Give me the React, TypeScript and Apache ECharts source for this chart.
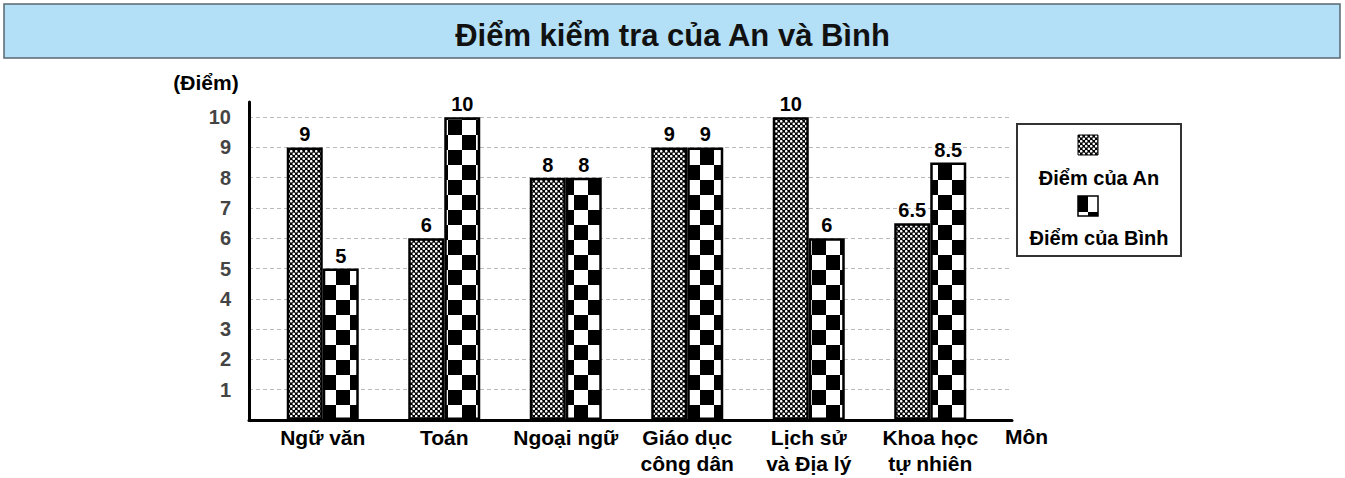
import React, { useEffect, useRef } from "react";
import * as echarts from "echarts";

const titleText = "Điểm kiểm tra của An và Bình";
const subjects = [
  "Ngữ văn",
  "Toán",
  "Ngoại ngữ",
  "Giáo dục\ncông dân",
  "Lịch sử\nvà Địa lý",
  "Khoa học\ntự nhiên",
];
const seriesNames = ["Điểm của An", "Điểm của Bình"];
const anScores = [9, 6, 8, 9, 10, 6.5];
const binhScores = [5, 10, 8, 9, 6, 8.5];
const yTickLabels = [1, 2, 3, 4, 5, 6, 7, 8, 9, 10];
const yAxisName = "(Điểm)";
const xAxisName = "Môn";
const Y_MIN = 0;
const Y_MAX = 10.5;
const Y_STEP = 1;

const FONT = '"Liberation Sans", Arial, Helvetica, sans-serif';

const svgUrl = (s: string) =>
  "data:image/svg+xml;charset=utf-8," + encodeURIComponent(s);

const meshSvg =
  '<svg xmlns="http://www.w3.org/2000/svg" width="5" height="5">' +
  '<rect width="5" height="5" fill="#000"/>' +
  '<circle cx="1.25" cy="1.25" r="1.3" fill="#fff"/>' +
  '<circle cx="3.75" cy="3.75" r="1.3" fill="#fff"/>' +
  "</svg>";

const checkerSvg =
  '<svg xmlns="http://www.w3.org/2000/svg" width="28" height="30">' +
  '<rect width="28" height="30" fill="#fff"/>' +
  '<rect x="0" y="0" width="14" height="15" fill="#000"/>' +
  '<rect x="14" y="15" width="14" height="15" fill="#000"/>' +
  "</svg>";

const meshPattern = () => ({
  image: svgUrl(meshSvg),
  repeat: "repeat",
  imageWidth: 5,
  imageHeight: 5,
});
const checkerPattern = () => ({
  image: svgUrl(checkerSvg),
  repeat: "repeat",
  imageWidth: 28,
  imageHeight: 30,
  x: 5,
  y: 0,
});

export default function App() {
  const ref = useRef<HTMLDivElement>(null);

  useEffect(() => {
    if (!ref.current) return;
    const chart = echarts.init(ref.current, undefined, { renderer: "svg" });

    const barLabel = {
      show: true,
      position: "top",
      distance: 3,
      fontSize: 20,
      fontWeight: "bold",
      color: "#000",
      fontFamily: FONT,
    };

    const option: any = {
      animation: false,
      backgroundColor: "#fff",
      title: {
        text: titleText,
        left: "center",
        top: 20,
        padding: 0,
        textStyle: {
          fontSize: 31,
          fontWeight: "bold",
          color: "#111",
          fontFamily: FONT,
        },
      },
      grid: [
        { left: 249, right: 333, top: 102, bottom: 58 },
        { left: 262, right: 354, top: 102, bottom: 58 },
      ],
      xAxis: [
        {
          gridIndex: 0,
          type: "value",
          min: 0,
          max: 1,
          axisLine: { show: true, lineStyle: { color: "#000", width: 3 } },
          axisTick: { show: false },
          axisLabel: { show: false },
          splitLine: { show: false },
        },
        {
          gridIndex: 1,
          type: "category",
          data: subjects,
          axisLine: { show: false },
          axisTick: { show: false },
          splitLine: { show: false },
          axisLabel: {
            interval: 0,
            margin: 4,
            fontSize: 21,
            fontWeight: "bold",
            color: "#000",
            lineHeight: 26,
            fontFamily: FONT,
          },
        },
      ],
      yAxis: [
        {
          gridIndex: 0,
          type: "value",
          min: Y_MIN,
          max: Y_MAX,
          interval: Y_STEP,
          axisLine: { show: true, lineStyle: { color: "#000", width: 3 } },
          axisTick: { show: false },
          axisLabel: {
            margin: 18,
            fontSize: 20,
            fontWeight: "bold",
            color: "#444",
            fontFamily: FONT,
            formatter: (v: number) =>
              yTickLabels.includes(v) ? String(v) : "",
          },
          splitLine: {
            show: true,
            showMinLine: false,
            showMaxLine: false,
            lineStyle: { color: "#bbb", type: [4, 3], width: 1 },
          },
        },
        {
          gridIndex: 1,
          type: "value",
          min: Y_MIN,
          max: Y_MAX,
          interval: Y_STEP,
          show: false,
          splitLine: { show: false },
        },
      ],
      series: [
        {
          name: seriesNames[0],
          type: "bar",
          xAxisIndex: 1,
          yAxisIndex: 1,
          data: anScores,
          barWidth: 36,
          barGap: "0%",
          itemStyle: {
            color: meshPattern(),
            borderColor: "#000",
            borderWidth: 2.5,
          },
          label: barLabel,
        },
        {
          name: seriesNames[1],
          type: "bar",
          xAxisIndex: 1,
          yAxisIndex: 1,
          data: binhScores,
          barWidth: 36,
          barGap: "0%",
          itemStyle: {
            color: checkerPattern(),
            borderColor: "#000",
            borderWidth: 2.5,
          },
          label: barLabel,
        },
      ],
      graphic: [
        {
          type: "rect",
          z: -10,
          shape: { x: 4, y: 4, width: 1336, height: 54 },
          style: { fill: "#b3e0f7", stroke: "#5a6670", lineWidth: 1.5 },
        },
        {
          type: "text",
          x: 206,
          y: 82,
          style: {
            text: yAxisName,
            font: `bold 21px ${FONT}`,
            fill: "#000",
            align: "center",
            verticalAlign: "middle",
          },
        },
        {
          type: "text",
          x: 1005,
          y: 436,
          style: {
            text: xAxisName,
            font: `bold 21px ${FONT}`,
            fill: "#000",
            align: "left",
            verticalAlign: "middle",
          },
        },
        {
          type: "rect",
          shape: { x: 1017, y: 124, width: 164, height: 132 },
          style: { fill: "#fff", stroke: "#333", lineWidth: 2 },
        },
        {
          type: "rect",
          shape: { x: 1078, y: 135, width: 20, height: 20 },
          style: { fill: meshPattern(), stroke: "#000", lineWidth: 1 },
        },
        {
          type: "rect",
          shape: { x: 1078, y: 196, width: 20, height: 20 },
          style: { fill: "#fff", stroke: "#000", lineWidth: 1.5 },
        },
        {
          type: "rect",
          shape: { x: 1078, y: 196, width: 10, height: 16 },
          style: { fill: "#000" },
        },
        {
          type: "rect",
          shape: { x: 1088, y: 212, width: 10, height: 4 },
          style: { fill: "#000" },
        },
        {
          type: "text",
          x: 1099,
          y: 178,
          style: {
            text: seriesNames[0],
            font: `bold 20px ${FONT}`,
            fill: "#000",
            align: "center",
            verticalAlign: "middle",
          },
        },
        {
          type: "text",
          x: 1099,
          y: 238,
          style: {
            text: seriesNames[1],
            font: `bold 20px ${FONT}`,
            fill: "#000",
            align: "center",
            verticalAlign: "middle",
          },
        },
      ],
    };

    chart.setOption(option);
    return () => chart.dispose();
  }, []);

  return (
    <div
      ref={ref}
      style={{
        position: "absolute",
        left: 0,
        top: 0,
        width: 1345,
        height: 478,
      }}
    />
  );
}
